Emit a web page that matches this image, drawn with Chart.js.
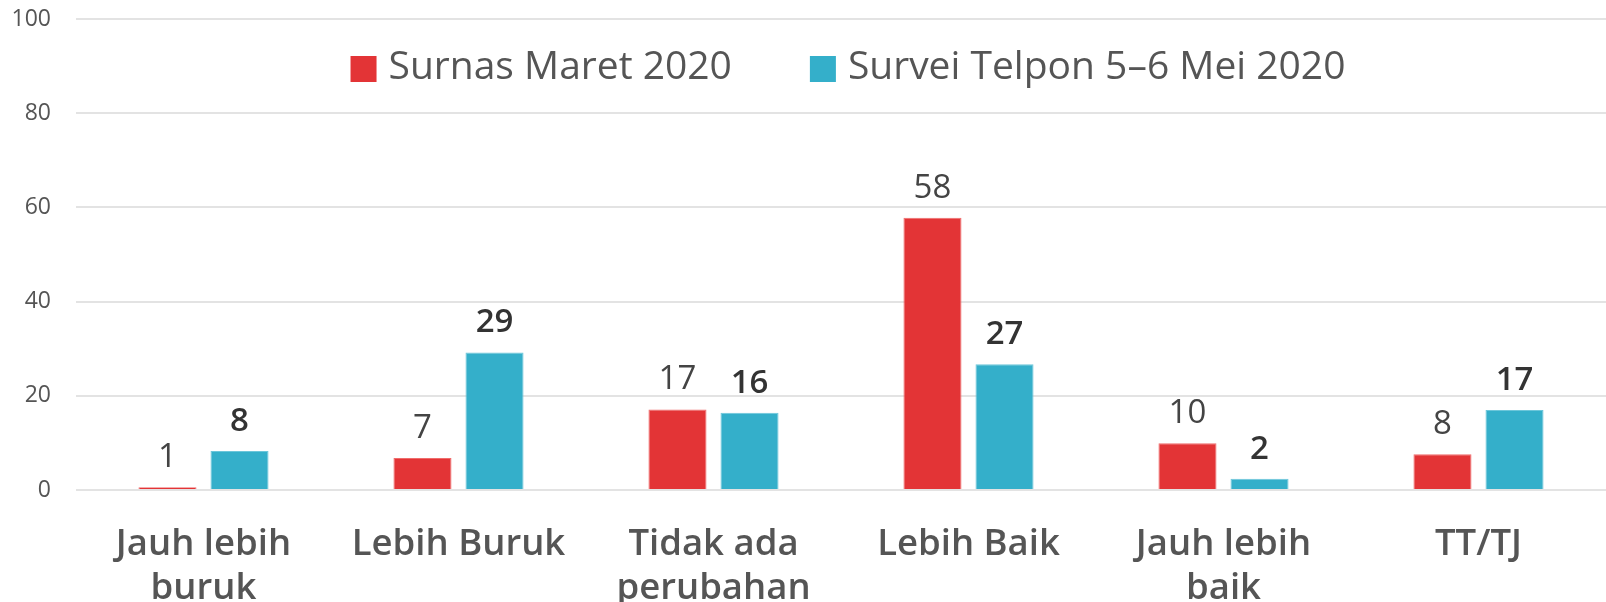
<!DOCTYPE html>
<html>
<head>
<meta charset="utf-8">
<script src="https://cdn.jsdelivr.net/npm/chart.js@4.4.1/dist/chart.umd.min.js"></script>
<style>
  html, body { margin: 0; padding: 0; background: #fff; }
  #wrap { width: 1606px; height: 602px; position: relative; }
</style>
</head>
<body>
<div id="wrap"><canvas id="chart-opini"></canvas></div>
<script>
const categories = [['Jauh lebih', 'buruk'], 'Lebih Buruk', ['Tidak ada', 'perubahan'], 'Lebih Baik', ['Jauh lebih', 'baik'], 'TT/TJ'];
const surnasMaret = [0.6, 6.8, 17.1, 57.8, 9.9, 7.6];
const telponMei = [8.3, 29.2, 16.4, 26.7, 2.4, 17.0];
const yTicks = [0, 20, 40, 60, 80, 100];

Chart.defaults.font.family = "'Open Sans', sans-serif";
Chart.defaults.color = '#555';

// legend sits inside the plot area, under the 100 line
const legendInArea = {
  id: 'legendInArea',
  afterDraw(chart) {
    const { ctx, chartArea } = chart;
    const box = 26, gapText = 12, gapItem = 78;
    ctx.save();
    ctx.font = "39px 'Open Sans'";
    const items = chart.data.datasets.map(ds => ({
      text: ds.label, color: ds.backgroundColor, w: ctx.measureText(ds.label).width
    }));
    const total = items.reduce((s, it) => s + box + gapText + it.w, 0) + gapItem * (items.length - 1);
    let x = (chartArea.left + chartArea.right) / 2 - total / 2 + 7;
    const boxTop = chartArea.top + 37;
    items.forEach(it => {
      ctx.fillStyle = it.color;
      ctx.fillRect(x, boxTop, box, box);
      x += box + gapText;
      ctx.fillStyle = '#555';
      ctx.textBaseline = 'alphabetic';
      ctx.fillText(it.text, x, boxTop + 23);
      x += it.w + gapItem;
    });
    ctx.restore();
  }
};

const barValues = {
  id: 'barValues',
  afterDatasetsDraw(chart) {
    const { ctx } = chart;
    ctx.save();
    ctx.textAlign = 'center';
    ctx.textBaseline = 'alphabetic';
    chart.data.datasets.forEach((ds, i) => {
      ctx.font = (i === 1 ? '600 ' : '400 ') + "33px 'Open Sans'";
      ctx.fillStyle = i === 1 ? '#333' : '#444';
      chart.getDatasetMeta(i).data.forEach((bar, j) => {
        ctx.fillText(Math.round(ds.data[j]), bar.x, bar.y - 20);
      });
    });
    ctx.restore();
  }
};

new Chart(document.getElementById('chart-opini'), {
  type: 'bar',
  data: {
    labels: categories,
    datasets: [{
      label: 'Surnas Maret 2020',
      data: surnasMaret,
      backgroundColor: '#e33436',
      borderColor: '#f06b6b',
      borderWidth: 1,
      categoryPercentage: 0.565,
      barPercentage: 0.806
    }, {
      label: 'Survei Telpon 5–6 Mei 2020',
      data: telponMei,
      backgroundColor: '#34afca',
      borderColor: '#6cc6da',
      borderWidth: 1,
      categoryPercentage: 0.565,
      barPercentage: 0.806
    }]
  },
  options: {
    responsive: true, maintainAspectRatio: false,
    animation: false,
    layout: { padding: { top: 19, right: 0, left: 0, bottom: 0 } },
    plugins: { legend: { display: false }, tooltip: { enabled: false } },
    scales: {
      x: {
        grid: { display: false },
        border: { display: false },
        ticks: { color: '#555', font: { size: 36.5, weight: '600', lineHeight: 1.2 }, padding: 25, autoSkip: false, maxRotation: 0 },
        afterFit(scale) { scale.height = 112; }
      },
      y: {
        min: 0, max: 100,
        afterBuildTicks(scale) { scale.ticks = yTicks.map(v => ({ value: v })); },
        grid: { color: '#e3e3e3', lineWidth: 2, drawTicks: false },
        border: { display: false },
        ticks: { color: '#555', font: { size: 23 }, padding: 25 },
        afterFit(scale) { scale.width = 76; scale.paddingTop = 12; scale.paddingBottom = 12; }
      }
    }
  },
  plugins: [legendInArea, barValues]
});
</script>
</body>
</html>
